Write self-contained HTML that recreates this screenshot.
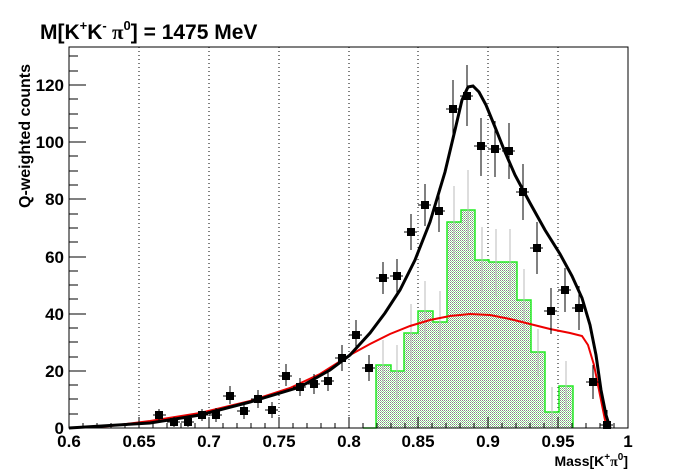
<!DOCTYPE html>
<html><head><meta charset="utf-8"><style>
html,body{margin:0;padding:0;background:#fff;}
svg{display:block;font-family:"Liberation Sans",sans-serif;font-weight:bold;}
</style></head><body>
<svg width="698" height="476" viewBox="0 0 698 476" xmlns="http://www.w3.org/2000/svg">
<defs>
<pattern id="ck" width="2" height="2" patternUnits="userSpaceOnUse">
<rect width="2" height="2" fill="#fff"/><rect width="1" height="1" fill="#888"/><rect x="1" y="1" width="1" height="1" fill="#8d8"/>
</pattern>
</defs>
<rect width="698" height="476" fill="#fff"/>
<text x="40" y="39" font-size="21">M[K<tspan font-size="13" dy="-9">+</tspan><tspan dy="9">K</tspan><tspan font-size="13" dy="-9">-</tspan><tspan dy="9" font-family="Liberation Serif"> π</tspan><tspan font-size="13" dy="-9">0</tspan><tspan dy="9">] = 1475 MeV</tspan></text>
<g stroke="#000" stroke-width="1" stroke-dasharray="1,3">
<line x1="139" y1="47" x2="139" y2="428"/><line x1="209" y1="47" x2="209" y2="428"/><line x1="279" y1="47" x2="279" y2="428"/><line x1="349" y1="47" x2="349" y2="428"/><line x1="418" y1="47" x2="418" y2="428"/><line x1="488" y1="47" x2="488" y2="428"/><line x1="558" y1="47" x2="558" y2="428"/>
</g>
<path d="M363,428 L376,428 L376,365 L391,365 L391,371 L404,371 L404,333 L418,333 L418,311 L433,311 L433,322 L447,322 L447,222 L461,222 L461,210 L475,210 L475,260 L489,260 L489,262 L503,262 L503,262 L517,262 L517,300 L531,300 L531,352 L545,352 L545,412 L559,412 L559,386 L573,386 L573,428" fill="url(#ck)" stroke="#22ee22" stroke-width="1.5"/>
<g stroke="#bbb" stroke-width="1">
<line x1="383" y1="340" x2="383" y2="390"/><line x1="397" y1="345" x2="397" y2="398"/><line x1="411" y1="304" x2="411" y2="360"/><line x1="425" y1="281" x2="425" y2="340"/><line x1="440" y1="291" x2="440" y2="353"/><line x1="454" y1="186" x2="454" y2="258"/><line x1="468" y1="170" x2="468" y2="250"/><line x1="482" y1="227" x2="482" y2="293"/><line x1="496" y1="229" x2="496" y2="296"/><line x1="510" y1="229" x2="510" y2="296"/><line x1="524" y1="269" x2="524" y2="331"/><line x1="538" y1="329" x2="538" y2="376"/><line x1="552" y1="387" x2="552" y2="428"/><line x1="566" y1="361" x2="566" y2="411"/>
</g>
<polyline fill="none" stroke="#e00" stroke-width="2" points="69,428 110,426 150,421 200,413 250,401 290,388 320,374 350,355 370,344 390,334 410,326 430,320 450,316 470,314 490,315 510,319 530,324 550,329 570,333 582,336 588,345 594,365 600,395 605,420 608,428"/>
<polyline fill="none" stroke="#000" stroke-width="3" points="69,428 150,423 200,415 250,402 300,387 330,370 350,355 370,333 385,313 400,290 415,260 430,222 445,172 455,130 462,100 468,87 473,86 479,92 486,105 495,127 505,152 515,175 530,203 545,230 560,254 572,276 582,298 590,325 596,355 601,390 606,415 610,428"/>
<g stroke="#000" stroke-width="1">
<path d="M153,415h13M167,422h13M181,422h13M195,415h13M209,415h13M223,396h13M237,411h13M251,399h13M265,410h13M279,376h13M293,387h13M307,384h13M321,381h13M335,358h13M349,335h13M362,368h13M376,278h13M390,276h13M404,232h13M418,205h13M432,211h13M446,109h13M460,96h13M474,146h13M488,149h13M502,151h13M516,192h13M530,248h13M544,311h13M558,290h13M572,308h13M586,382h13M600,425h13"/>
<path d="M159,409v12M174,417v10M188,417v10M202,409v12M216,408v14M230,386v18M244,403v16M258,390v18M272,402v16M286,364v22M300,378v18M314,374v20M328,371v20M342,345v26M356,320v30M369,355v26M383,262v32M397,259v34M411,214v36M425,184v42M439,188v44M453,80v59M467,65v61M481,118v58M495,121v56M509,123v56M523,164v56M537,222v52M551,288v46M565,268v44M579,286v44M593,365v34M607,410v18"/>
</g>
<g fill="#000">
<rect x="155" y="411" width="8" height="8"/><rect x="170" y="418" width="8" height="8"/><rect x="184" y="418" width="8" height="8"/><rect x="198" y="411" width="8" height="8"/><rect x="212" y="411" width="8" height="8"/><rect x="226" y="392" width="8" height="8"/><rect x="240" y="407" width="8" height="8"/><rect x="254" y="395" width="8" height="8"/><rect x="268" y="406" width="8" height="8"/><rect x="282" y="372" width="8" height="8"/><rect x="296" y="383" width="8" height="8"/><rect x="310" y="380" width="8" height="8"/><rect x="324" y="377" width="8" height="8"/><rect x="338" y="354" width="8" height="8"/><rect x="352" y="331" width="8" height="8"/><rect x="365" y="364" width="8" height="8"/><rect x="379" y="274" width="8" height="8"/><rect x="393" y="272" width="8" height="8"/><rect x="407" y="228" width="8" height="8"/><rect x="421" y="201" width="8" height="8"/><rect x="435" y="207" width="8" height="8"/><rect x="449" y="105" width="8" height="8"/><rect x="463" y="92" width="8" height="8"/><rect x="477" y="142" width="8" height="8"/><rect x="491" y="145" width="8" height="8"/><rect x="505" y="147" width="8" height="8"/><rect x="519" y="188" width="8" height="8"/><rect x="533" y="244" width="8" height="8"/><rect x="547" y="307" width="8" height="8"/><rect x="561" y="286" width="8" height="8"/><rect x="575" y="304" width="8" height="8"/><rect x="589" y="378" width="8" height="8"/><rect x="603" y="421" width="8" height="8"/>
</g>
<rect x="69" y="47" width="559" height="381" fill="none" stroke="#000" stroke-width="1"/>
<g stroke="#000" stroke-width="1">
<path d="M69,428v-11M139,428v-11M209,428v-11M279,428v-11M349,428v-11M418,428v-11M488,428v-11M558,428v-11M628,428v-11"/>
<path d="M83,428v-5M97,428v-5M111,428v-5M125,428v-5M153,428v-5M167,428v-5M181,428v-5M195,428v-5M223,428v-5M237,428v-5M251,428v-5M265,428v-5M293,428v-5M307,428v-5M321,428v-5M335,428v-5M363,428v-5M377,428v-5M391,428v-5M405,428v-5M432,428v-5M446,428v-5M460,428v-5M474,428v-5M502,428v-5M516,428v-5M530,428v-5M544,428v-5M572,428v-5M586,428v-5M600,428v-5M614,428v-5"/>
<path d="M69,428h17M69,371h17M69,314h17M69,257h17M69,199h17M69,142h17M69,85h17"/>
<path d="M69,414h9M69,399h9M69,385h9M69,357h9M69,342h9M69,328h9M69,299h9M69,285h9M69,271h9M69,242h9M69,228h9M69,214h9M69,185h9M69,171h9M69,156h9M69,128h9M69,114h9M69,99h9M69,71h9M69,56h9"/>
</g>
<g font-size="17" text-anchor="middle">
<text x="69" y="447">0.6</text><text x="139" y="447">0.65</text><text x="209" y="447">0.7</text><text x="279" y="447">0.75</text><text x="349" y="447">0.8</text><text x="418" y="447">0.85</text><text x="488" y="447">0.9</text><text x="558" y="447">0.95</text><text x="628" y="447">1</text>
</g>
<g font-size="17" text-anchor="end">
<text x="64" y="434">0</text><text x="64" y="377">20</text><text x="64" y="320">40</text><text x="64" y="263">60</text><text x="64" y="205">80</text><text x="64" y="148">100</text><text x="64" y="91">120</text>
</g>
<text x="628" y="466" font-size="14" text-anchor="end">Mass[K<tspan font-size="10" dy="-6">+</tspan><tspan dy="6" font-family="Liberation Serif">π</tspan><tspan font-size="10" dy="-6">0</tspan><tspan dy="6">]</tspan></text>
<text transform="translate(30,136) rotate(-90)" font-size="16" text-anchor="middle">Q-weighted counts</text>
</svg>
</body></html>
